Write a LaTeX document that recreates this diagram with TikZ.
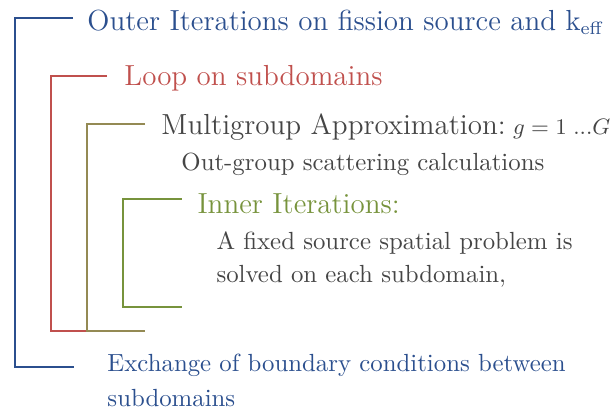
\documentclass[tikz,border=0pt]{standalone}
\usetikzlibrary{positioning}
\definecolor{outerblue}{HTML}{2B4F8E}
\definecolor{domainred}{HTML}{C0504D}
\definecolor{groupolive}{HTML}{948A54}
\definecolor{innergreen}{HTML}{77933C}
\definecolor{textgray}{HTML}{454545}
\tikzset{
  head/.style={anchor=base west,inner sep=0pt,font=\fontsize{11.7}{14}\selectfont},
  note/.style={anchor=base west,inner sep=0pt,font=\fontsize{10}{13.4}\selectfont},
  bar/.style={line width=.8pt}
}

\begin{document}
\begin{tikzpicture}[x=0.4032pt,y=-0.4032pt]
  \useasboundingbox (0,0) rectangle (616,413);

  % texts
  \node[head,outerblue] (outer) at (87,30) {Outer Iterations on fission source and k\textsubscript{\fontsize{7.2}{8}\selectfont eff}};
  \node[head,domainred] (loop) at (124,85) {Loop on subdomains};
  \node[head,textgray] (multi) at (161,134.3) {Multigroup Approximation:\hspace{3pt}{\fontsize{8.9}{11}\selectfont$g=1\;...G$}};
  \node[note,textgray] (scatter) at (181,170) {Out-group scattering calculations};
  \node[head,innergreen] (inner) at (197,213.3) {Inner Iterations:};
  \node[note,textgray] (fixed) at (216,249) {A fixed source spatial problem is};
  \node[note,textgray] (solved) at (216,282) {solved on each subdomain,};
  \node[note,outerblue] (exchange) at (107,371.7) {Exchange of boundary conditions between};
  \node[note,outerblue] (sub) at (107,406.7) {subdomains};

  % bracket ends
  \coordinate (outerT) at (73,18.3);
  \coordinate (outerB) at (74,366.7);
  \coordinate (loopT) at (107,76);
  \coordinate (loopB) at (86.7,331);
  \coordinate (multiT) at (145,124);
  \coordinate (multiB) at (145,331);
  \coordinate (innerT) at (181.7,199.3);
  \coordinate (innerB) at (181.7,307.3);

  % brackets
  \draw[bar,outerblue] (outerT) -- (15,18.3) |- (outerB);
  \draw[bar,domainred] (loopT) -- (51,76) |- (loopB);
  \draw[bar,groupolive] (multiT) -- (86.7,124) |- (multiB);
  \draw[bar,innergreen] (innerT) -- (122.7,199.3) |- (innerB);
\end{tikzpicture}
\end{document}
